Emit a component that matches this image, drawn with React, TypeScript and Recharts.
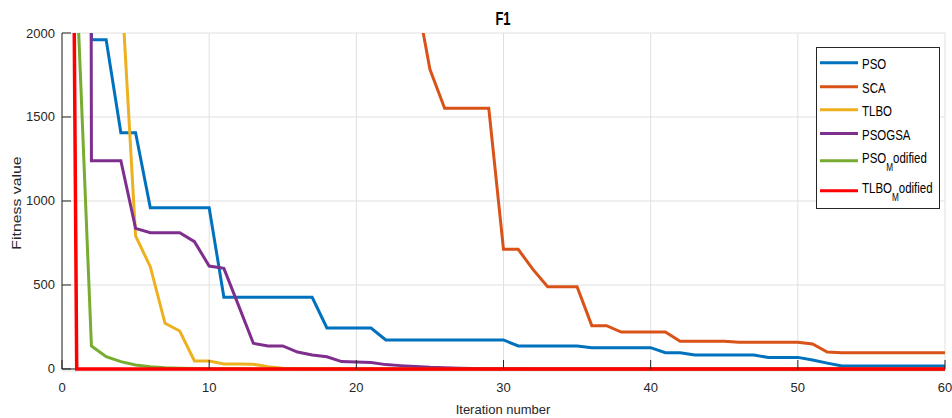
import { CartesianGrid, Line, LineChart, ReferenceLine, XAxis, YAxis } from "recharts";

// iteration number (x)
const iterations = [
    0, 1, 2, 3, 4, 5, 6, 7, 8, 9,
    10, 11, 12, 13, 14, 15, 16, 17, 18, 19,
    20, 21, 22, 23, 24, 25, 26, 27, 28, 29,
    30, 31, 32, 33, 34, 35, 36, 37, 38, 39,
    40, 41, 42, 43, 44, 45, 46, 47, 48, 49,
    50, 51, 52, 53, 54, 55, 56, 57, 58, 59,
    60,
];

// fitness values per iteration (values above 2000 run off the top of the plot)
const pso = [
    null, 40000, 1960, 1960, 1406, 1406, 960, 960, 960, 960,
    960, 427, 427, 427, 427, 427, 427, 427, 244, 244,
    244, 244, 173, 173, 173, 173, 173, 173, 173, 173,
    173, 137, 137, 137, 137, 137, 127, 127, 127, 127,
    127, 97, 97, 83, 83, 83, 83, 83, 69, 69,
    69, 54, 35, 18, 18, 18, 18, 18, 18, 18,
    18,
];
const sca = [
    null, 52000, 38000, 30000, 24000, 20000, 17500, 15000, 13200, 11800,
    10500, 9400, 8500, 7600, 6800, 6100, 5500, 4900, 4400, 3900,
    3500, 3150, 2850, 2550, 2260, 1784, 1552, 1552, 1552, 1552,
    712, 712, 593, 490, 490, 490, 258, 258, 220, 220,
    220, 220, 165, 165, 165, 165, 159, 159, 159, 159,
    159, 149, 101, 97, 97, 97, 97, 97, 97, 97,
    97,
];
const tlbo = [
    null, 60000, 20000, 6000, 2340, 792, 609, 272, 226, 48,
    48, 30, 29, 28, 14, 5, 3, 2, 1.5, 1,
    0.8, 0.6, 0.5, 0.4, 0.3, 0.25, 0.2, 0.15, 0.1, 0.1,
    0.08, 0.06, 0.05, 0.04, 0.03, 0.03, 0.02, 0.02, 0.02, 0.01,
    0.01, 0.01, 0.01, 0.01, 0.01, 0.01, 0.01, 0.01, 0.01, 0.01,
    0.01, 0.01, 0.01, 0.01, 0.01, 0.01, 0.01, 0.01, 0.01, 0.01,
    0.01,
];
const psogsa = [
    null, 50000, 1240, 1240, 1240, 837, 811, 811, 811, 758,
    613, 599, 377, 153, 137, 137, 101, 83, 73, 44,
    42, 38, 26, 20, 15, 10, 7, 5, 3, 2,
    1, 0.8, 0.6, 0.5, 0.4, 0.3, 0.25, 0.2, 0.15, 0.1,
    0.1, 0.05, 0.05, 0.05, 0.05, 0.05, 0.05, 0.05, 0.05, 0.05,
    0.05, 0.05, 0.05, 0.05, 0.05, 0.05, 0.05, 0.05, 0.05, 0.05,
    0.05,
];
const psoModified = [
    null, 2290, 137, 73, 44, 24, 14, 8, 5, 3,
    2, 1.3, 0.9, 0.6, 0.4, 0.3, 0.2, 0.15, 0.1, 0.08,
    0.06, 0.05, 0.05, 0.05, 0.05, 0.05, 0.05, 0.05, 0.05, 0.05,
    0.05, 0.05, 0.05, 0.05, 0.05, 0.05, 0.05, 0.05, 0.05, 0.05,
    0.05, 0.05, 0.05, 0.05, 0.05, 0.05, 0.05, 0.05, 0.05, 0.05,
    0.05, 0.05, 0.05, 0.05, 0.05, 0.05, 0.05, 0.05, 0.05, 0.05,
    0.05,
];
const tlboModified = [
    12000, 0.4, 0.2, 0.1, 0, 0, 0, 0, 0, 0,
    0, 0, 0, 0, 0, 0, 0, 0, 0, 0,
    0, 0, 0, 0, 0, 0, 0, 0, 0, 0,
    0, 0, 0, 0, 0, 0, 0, 0, 0, 0,
    0, 0, 0, 0, 0, 0, 0, 0, 0, 0,
    0, 0, 0, 0, 0, 0, 0, 0, 0, 0,
    0,
];

const xTicks = [0, 10, 20, 30, 40, 50, 60];
const yTicks = [0, 500, 1000, 1500, 2000];

const series = [
    { key: "PSO", name: "PSO", sub: "", rest: "", color: "#0072BD", values: pso },
    { key: "SCA", name: "SCA", sub: "", rest: "", color: "#D95319", values: sca },
    { key: "TLBO", name: "TLBO", sub: "", rest: "", color: "#EDB120", values: tlbo },
    { key: "PSOGSA", name: "PSOGSA", sub: "", rest: "", color: "#7E2F8E", values: psogsa },
    { key: "PSO_Modified", name: "PSO", sub: "M", rest: "odified", color: "#77AC30", values: psoModified },
    { key: "TLBO_Modified", name: "TLBO", sub: "M", rest: "odified", color: "#FF0000", values: tlboModified },
];

const rows = iterations.map((it, i) => {
    const row: any = { it };
    series.forEach((s) => (row[s.key] = s.values[i]));
    return row;
});

const FONT = "'Liberation Sans', Arial, Helvetica, sans-serif";
const INK = "#262626";

// plot area runs 2px below zero so the thick line at 0 is not cut in half
const XTick = (props: any) => {
    const { x, y, payload } = props;
    return (
        <g>
            <line x1={x} x2={x} y1={y - 2} y2={y - 11} stroke={INK} />
            <text x={x} y={y + 20.5} textAnchor="middle" fontSize={13} fontFamily={FONT} fill={INK}>
                {payload.value}
            </text>
        </g>
    );
};

const YTick = (props: any) => {
    const { x, y, payload } = props;
    return (
        <g>
            <line x1={x + 7} x2={x + 16} y1={y} y2={y} stroke={INK} />
            <text x={x} y={y + 4.5} textAnchor="end" fontSize={13} fontFamily={FONT} fill={INK}>
                {payload.value}
            </text>
        </g>
    );
};

// legend rows: line y, text baseline
const legendRows = [
    { line: 62.7, base: 69.3 },
    { line: 86.7, base: 92.7 },
    { line: 109.8, base: 116 },
    { line: 133.5, base: 140 },
    { line: 160.7, base: 163.3 },
    { line: 190.7, base: 193.3 },
];

export default function App() {
    return (
        <div style={{ position: "absolute", left: 0, top: 0, width: 952, height: 418, background: "#fff" }}>
            <LineChart width={952} height={418} data={rows} margin={{ top: 33, right: 7, bottom: 0, left: 0 }}>
                <CartesianGrid stroke="#e0e0e0" />
                <XAxis
                    dataKey="it"
                    type="number"
                    domain={[0, 60]}
                    ticks={xTicks}
                    interval={0}
                    height={47}
                    tickSize={0}
                    tickMargin={0}
                    tickLine={false}
                    axisLine={false}
                    tick={(p: any) => <XTick {...p} />}
                    allowDataOverflow
                />
                <YAxis
                    type="number"
                    domain={[-12, 2000]}
                    ticks={yTicks}
                    interval={0}
                    width={62}
                    tickSize={0}
                    tickMargin={7}
                    tickLine={false}
                    axisLine={false}
                    tick={(p: any) => <YTick {...p} />}
                    allowDataOverflow
                />
                <ReferenceLine y={0} stroke={INK} strokeWidth={1} />
                <ReferenceLine segment={[{ x: 0, y: 0 }, { x: 0, y: 2000 }]} stroke={INK} strokeWidth={1} />
                {series.map((s) => (
                    <Line
                        key={s.key}
                        type="linear"
                        dataKey={s.key}
                        stroke={s.color}
                        strokeWidth={s.key === "TLBO_Modified" ? 3.5 : 3}
                        dot={false}
                        activeDot={false}
                        isAnimationActive={false}
                    />
                ))}
            </LineChart>
            <svg
                width={952}
                height={418}
                style={{ position: "absolute", left: 0, top: 0, pointerEvents: "none" }}
                fontFamily={FONT}
            >
                <text transform="translate(503,25) scale(0.72,1)" textAnchor="middle" fontSize={18} fontWeight="bold" fill="#000">
                    F1
                </text>
                <text x={503} y={414} textAnchor="middle" fontSize={13} fill={INK}>
                    Iteration number
                </text>
                <text transform="translate(20.5,203) rotate(-90) scale(1.27,1)" textAnchor="middle" fontSize={12.5} fill={INK}>
                    Fitness value
                </text>
                <rect x={816.5} y={47.5} width={123} height={161} fill="#fff" stroke={INK} />
                {series.map((s, i) => {
                    const r = legendRows[i];
                    return (
                        <g key={s.key}>
                            <line x1={820} x2={858} y1={r.line} y2={r.line} stroke={s.color} strokeWidth={3} />
                            <text transform={`translate(862,${r.base}) scale(0.82,1)`} fontSize={14} fill="#000">
                                {s.name}
                                {s.sub && (
                                    <tspan fontSize={10} dy={7.4}>
                                        {s.sub}
                                    </tspan>
                                )}
                                {s.rest && <tspan dy={-7.4}>{s.rest}</tspan>}
                            </text>
                        </g>
                    );
                })}
            </svg>
        </div>
    );
}
